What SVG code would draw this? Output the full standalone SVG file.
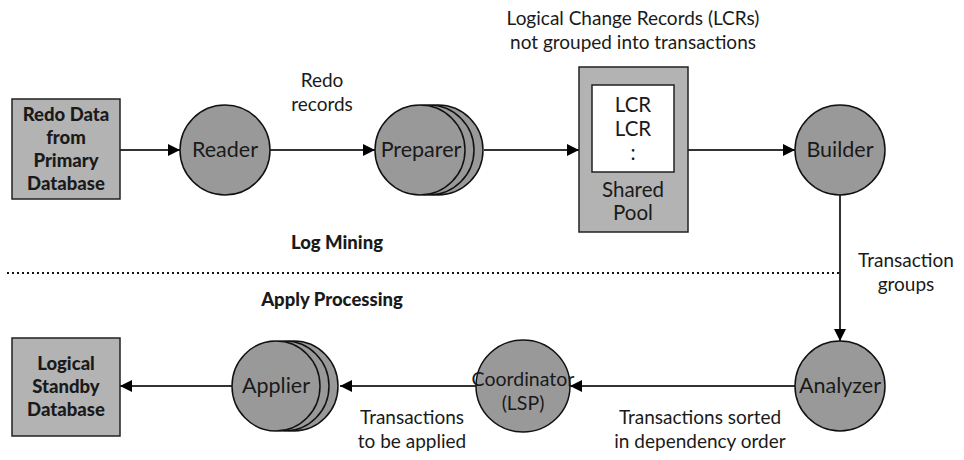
<svg xmlns="http://www.w3.org/2000/svg" width="964" height="460" viewBox="0 0 964 460">
  <defs>
    <marker id="arrow" viewBox="0 0 12 12" refX="12" refY="6" markerWidth="12" markerHeight="12" markerUnits="userSpaceOnUse" orient="auto">
      <path d="M0,0 L12,6 L0,12 Z" fill="#000"/>
    </marker>
  </defs>
  <style>
    text { font-family: Lato, "Open Sans", sans-serif; font-size: 19px; fill: #1a1a1a; text-anchor: middle; }
    .node { font-size: 21.5px; }
    .pool { font-size: 20.5px; }
    .coord { font-size: 19.5px; }
    .bold { font-weight: 900; font-size: 18.5px; }
    .head { font-weight: 900; font-size: 18.5px; }
    .store { fill: #b3b3b3; stroke: #222; stroke-width: 1.5; }
    .proc { fill: #999; stroke: #111; stroke-width: 1.5; }
    .inner { fill: #fff; stroke: #222; stroke-width: 1.5; }
    .edge { fill: none; stroke: #333; stroke-width: 2; marker-end: url(#arrow); }
    .divider { stroke: #111; stroke-width: 2; stroke-dasharray: 2 3; }
  </style>

  <rect width="964" height="460" fill="#fff"/>

  <!-- connectors -->
  <g id="connectors">
    <line class="edge" x1="120" y1="150" x2="180" y2="150"/>
    <line class="edge" x1="270" y1="150" x2="375" y2="150"/>
    <line class="edge" x1="484" y1="150" x2="579" y2="150"/>
    <line class="edge" x1="688" y1="150" x2="795" y2="150"/>
    <line class="edge" x1="840" y1="195" x2="840" y2="341"/>
    <line class="edge" x1="795" y1="386" x2="570" y2="386"/>
    <line class="edge" x1="476" y1="386" x2="340" y2="386"/>
    <line class="edge" x1="232" y1="386" x2="120" y2="386"/>
  </g>

  <!-- section divider -->
  <line class="divider" x1="7" y1="273" x2="840" y2="273"/>
  <text class="head" x="337" y="249">Log Mining</text>
  <text class="head" x="332" y="306">Apply Processing</text>

  <!-- edge labels -->
  <text x="322" y="87">Redo</text>
  <text x="322" y="111">records</text>
  <text x="633" y="25">Logical Change Records (LCRs)</text>
  <text x="633" y="49">not grouped into transactions</text>
  <text x="906" y="267">Transaction</text>
  <text x="906" y="291">groups</text>
  <text x="412" y="424">Transactions</text>
  <text x="412" y="448">to be applied</text>
  <text x="700" y="424">Transactions sorted</text>
  <text x="700" y="448">in dependency order</text>

  <!-- nodes -->
  <g id="redo-data">
    <rect class="store" x="12" y="99" width="108" height="100"/>
    <text class="bold" x="66" y="121">Redo Data</text>
    <text class="bold" x="66" y="144">from</text>
    <text class="bold" x="66" y="167">Primary</text>
    <text class="bold" x="66" y="190">Database</text>
  </g>

  <g id="reader">
    <circle class="proc" cx="225" cy="150" r="45"/>
    <text class="node" x="225" y="157">Reader</text>
  </g>

  <g id="preparer">
    <ellipse class="proc" cx="438" cy="150" rx="45" ry="45"/>
    <ellipse class="proc" cx="429" cy="150" rx="45" ry="45"/>
    <ellipse class="proc" cx="420" cy="150" rx="45" ry="45"/>
    <text class="node" x="421" y="157">Preparer</text>
  </g>

  <g id="shared-pool">
    <rect class="store" x="579" y="67" width="109" height="165"/>
    <rect class="inner" x="592" y="85" width="82" height="87"/>
    <text class="pool" x="633" y="112">LCR</text>
    <text class="pool" x="633" y="136">LCR</text>
    <text class="pool" x="633" y="160">:</text>
    <text class="pool" x="633" y="197">Shared</text>
    <text class="pool" x="633" y="220">Pool</text>
  </g>

  <g id="builder">
    <circle class="proc" cx="840" cy="150" r="45"/>
    <text class="node" x="840" y="157">Builder</text>
  </g>

  <g id="analyzer">
    <circle class="proc" cx="840" cy="386" r="45"/>
    <text class="node" x="840" y="393">Analyzer</text>
  </g>

  <g id="coordinator">
    <ellipse class="proc" cx="523" cy="386" rx="47" ry="46"/>
    <text class="coord" x="523" y="386">Coordinator</text>
    <text class="coord" x="523" y="410">(LSP)</text>
  </g>

  <g id="applier">
    <ellipse class="proc" cx="294" cy="386" rx="44" ry="45"/>
    <ellipse class="proc" cx="285" cy="386" rx="44" ry="45"/>
    <ellipse class="proc" cx="276" cy="386" rx="44" ry="45"/>
    <text class="node" x="276" y="393">Applier</text>
  </g>

  <g id="logical-standby">
    <rect class="store" x="12" y="338" width="108" height="98"/>
    <text class="bold" x="66" y="370">Logical</text>
    <text class="bold" x="66" y="393">Standby</text>
    <text class="bold" x="66" y="416">Database</text>
  </g>
</svg>
